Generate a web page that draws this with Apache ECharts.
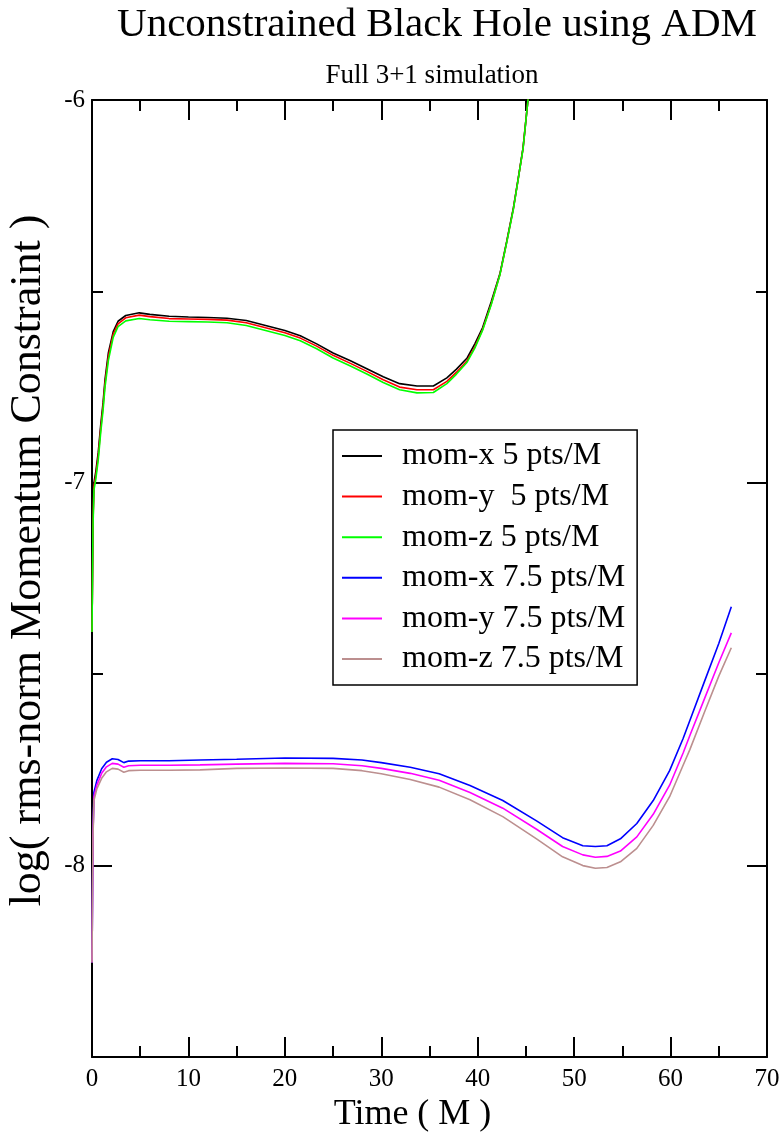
<!DOCTYPE html>
<html>
<head>
<meta charset="utf-8">
<script src="https://cdn.jsdelivr.net/npm/echarts@6/dist/echarts.min.js"></script>
<style>
html,body{margin:0;padding:0;background:#fff;}
#chart{width:783px;height:1137px;}
</style>
</head>
<body>
<div id="chart"></div>
<script>
// ---- data ----
var titleText = 'Unconstrained Black Hole using ADM';
var subtitleText = 'Full 3+1 simulation';
var xAxisName = 'Time ( M )';
var yAxisName = 'log( rms-norm Momentum Constraint )';
var seriesNames = ['mom-x 5 pts/M', 'mom-y  5 pts/M', 'mom-z 5 pts/M', 'mom-x 7.5 pts/M', 'mom-y 7.5 pts/M', 'mom-z 7.5 pts/M'];
var seriesColors = ['#000000', '#ff0000', '#00ff00', '#0000ff', '#ff00ff', '#bc8f8f'];
var yMajorTicks = [-8, -7, -6];
var yMinorTicks = [-8.5, -7.5, -6.5];

// time samples, 5 pts/M runs
var tTop = [0, 0.1, 0.2, 0.4, 0.65, 0.9, 1.15, 1.35, 1.7, 2.2, 2.7, 3.5, 4.9, 6, 8, 10, 12, 14, 16, 18, 20, 21.6, 23.3, 25, 26.8, 28.5, 30.2, 31.9, 33.7, 35.4, 36.8, 37.8, 38.9, 39.7, 40.5, 41.4, 42.3, 43, 43.7, 44.2, 44.7, 45.2, 45.7];
var momX5 = [-7.39, -7.10, -7.00, -6.97, -6.92, -6.85, -6.79, -6.73, -6.66, -6.605, -6.578, -6.563, -6.556, -6.560, -6.565, -6.567, -6.568, -6.570, -6.576, -6.589, -6.602, -6.616, -6.637, -6.661, -6.681, -6.702, -6.723, -6.741, -6.747, -6.747, -6.726, -6.703, -6.674, -6.637, -6.595, -6.527, -6.454, -6.370, -6.282, -6.205, -6.125, -6.003, -5.92];
var momY5 = [-7.39, -7.11, -7.01, -6.98, -6.93, -6.86, -6.80, -6.74, -6.67, -6.612, -6.585, -6.569, -6.562, -6.566, -6.571, -6.572, -6.573, -6.575, -6.582, -6.595, -6.608, -6.622, -6.643, -6.667, -6.688, -6.709, -6.731, -6.750, -6.757, -6.757, -6.735, -6.711, -6.681, -6.645, -6.600, -6.533, -6.456, -6.372, -6.284, -6.206, -6.127, -6.002, -5.92];
var momZ5 = [-7.39, -7.12, -7.02, -6.99, -6.94, -6.87, -6.81, -6.75, -6.68, -6.620, -6.592, -6.577, -6.571, -6.574, -6.578, -6.579, -6.580, -6.582, -6.589, -6.602, -6.615, -6.629, -6.650, -6.674, -6.695, -6.716, -6.738, -6.757, -6.765, -6.764, -6.741, -6.716, -6.685, -6.648, -6.602, -6.535, -6.457, -6.373, -6.285, -6.207, -6.128, -6.003, -5.92];

// time samples, 7.5 pts/M runs
var tBot = [0, 0.1, 0.2, 0.5, 1.0, 1.5, 2.1, 2.7, 3.3, 3.8, 5, 8, 11.2, 15, 20, 25, 28, 30, 33, 36, 39.2, 42.6, 46.1, 48.8, 50.9, 52.2, 53.4, 54.8, 56.5, 58.2, 59.9, 61.3, 62.0, 63.5, 65, 66.3];
var momX75 = [-8.253, -7.92, -7.809, -7.778, -7.747, -7.730, -7.721, -7.723, -7.731, -7.727, -7.726, -7.726, -7.724, -7.722, -7.719, -7.720, -7.724, -7.731, -7.743, -7.760, -7.791, -7.830, -7.883, -7.927, -7.948, -7.950, -7.948, -7.930, -7.890, -7.830, -7.752, -7.668, -7.621, -7.52, -7.42, -7.324];
var momY75 = [-8.253, -7.924, -7.82, -7.79, -7.759, -7.742, -7.733, -7.735, -7.743, -7.739, -7.738, -7.738, -7.737, -7.735, -7.733, -7.734, -7.739, -7.746, -7.759, -7.777, -7.809, -7.850, -7.905, -7.950, -7.972, -7.978, -7.976, -7.962, -7.925, -7.866, -7.790, -7.706, -7.660, -7.565, -7.47, -7.392];
var momZ75 = [-8.253, -7.93, -7.83, -7.80, -7.772, -7.755, -7.746, -7.748, -7.756, -7.752, -7.751, -7.751, -7.750, -7.746, -7.745, -7.746, -7.752, -7.760, -7.775, -7.795, -7.828, -7.872, -7.930, -7.977, -8.000, -8.007, -8.005, -7.990, -7.955, -7.895, -7.820, -7.738, -7.697, -7.60, -7.505, -7.431];

// ---- chart ----
var FONT = '"Liberation Serif", "Times New Roman", serif';
function pairs(ts, vs) { return ts.map(function (t, i) { return [t, vs[i]]; }); }
var allData = [pairs(tTop, momX5), pairs(tTop, momY5), pairs(tTop, momZ5), pairs(tBot, momX75), pairs(tBot, momY75), pairs(tBot, momZ75)];

var axisLine = { show: true, onZero: false, lineStyle: { color: '#000', width: 2 } };
var noLine = { show: false, onZero: false };
var tickStyle = { color: '#000', width: 2 };
var MAJOR = 20, MINOR = 11;
var chart = echarts.init(document.getElementById('chart'), null, { renderer: 'canvas' });
var option = {
  animation: false,
  backgroundColor: '#fff',
  title: [
    { text: titleText, left: 432, top: 0, textAlign: 'center',
      textStyle: { fontFamily: FONT, fontSize: 41, fontWeight: 'normal', color: '#000' } },
    { text: subtitleText, left: 427, top: 57, textAlign: 'center',
      textStyle: { fontFamily: FONT, fontSize: 27, fontWeight: 'normal', color: '#000' } }
  ],
  grid: { left: 92, right: 16, top: 100, bottom: 80, containLabel: false, outerBoundsMode: 'none' },
  legend: {
    orient: 'vertical', left: 333, top: 430,
    data: seriesNames,
    icon: 'rect', itemWidth: 40, itemHeight: 2, itemGap: 8.6,
    padding: [10, 12, 10, 9],
    borderColor: '#000', borderWidth: 1.5, backgroundColor: '#fff',
    textStyle: { fontFamily: FONT, fontSize: 32, lineHeight: 32, color: '#000', padding: [0, 0, 0, 15] }
  },
  xAxis: [
    { type: 'value', min: 0, max: 70, interval: 10, position: 'bottom',
      axisLine: axisLine,
      axisTick: { show: true, inside: true, length: MAJOR, lineStyle: tickStyle },
      minorTick: { show: true, splitNumber: 2, length: MINOR, lineStyle: tickStyle },
      splitLine: { show: false }, minorSplitLine: { show: false },
      axisLabel: { fontFamily: FONT, fontSize: 25, color: '#000', margin: 10 },
      name: xAxisName, nameLocation: 'middle', nameGap: 35,
      nameTextStyle: { fontFamily: FONT, fontSize: 36, color: '#000', padding: [0, 34, 0, 0] } },
    { type: 'value', min: 0, max: 70, interval: 10, position: 'top',
      axisLine: axisLine,
      axisTick: { show: true, inside: true, length: MAJOR, lineStyle: tickStyle },
      minorTick: { show: true, splitNumber: 2, length: MINOR, lineStyle: tickStyle },
      splitLine: { show: false }, minorSplitLine: { show: false },
      axisLabel: { show: false } }
  ],
  yAxis: [
    { type: 'value', min: -8.5, max: -6, position: 'left',
      axisLine: axisLine,
      axisTick: { show: true, inside: true, length: MAJOR, customValues: yMajorTicks, lineStyle: tickStyle },
      axisLabel: { show: true, customValues: yMajorTicks, fontFamily: FONT, fontSize: 25, color: '#000', margin: 7 },
      splitLine: { show: false },
      name: yAxisName, nameLocation: 'middle', nameGap: 42,
      nameTextStyle: { fontFamily: FONT, fontSize: 44, color: '#000', padding: [0, 0, 0, 36] } },
    { type: 'value', min: -8.5, max: -6, position: 'left', offset: 0,
      axisLine: noLine,
      axisTick: { show: true, inside: true, length: MINOR, customValues: yMinorTicks, lineStyle: tickStyle },
      axisLabel: { show: false }, splitLine: { show: false } },
    { type: 'value', min: -8.5, max: -6, position: 'right', offset: 0,
      axisLine: axisLine,
      axisTick: { show: true, inside: true, length: MAJOR, customValues: yMajorTicks, lineStyle: tickStyle },
      axisLabel: { show: false }, splitLine: { show: false } },
    { type: 'value', min: -8.5, max: -6, position: 'right', offset: 0,
      axisLine: noLine,
      axisTick: { show: true, inside: true, length: MINOR, customValues: yMinorTicks, lineStyle: tickStyle },
      axisLabel: { show: false }, splitLine: { show: false } }
  ],
  series: seriesNames.map(function (name, i) {
    return {
      name: name, type: 'line', xAxisIndex: 0, yAxisIndex: 0,
      data: allData[i], symbol: 'none', smooth: false, clip: true,
      color: seriesColors[i],
      lineStyle: { color: seriesColors[i], width: 1.6 }
    };
  })
};
chart.setOption(option);
</script>
</body>
</html>
